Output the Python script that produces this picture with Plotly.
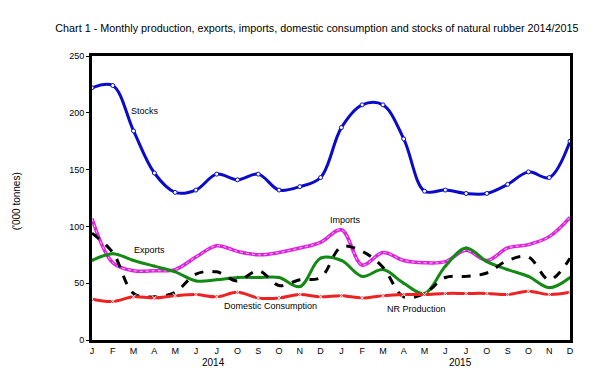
import plotly.graph_objects as go

months = ["J", "F", "M", "A", "M", "J", "J", "O", "S", "O", "N", "D"] * 2
years = ["2014", "2015"]

stocks = [222, 224, 184, 147, 130, 132, 146, 141, 146, 132, 135, 143,
          187, 207, 207, 177, 131, 132, 129, 129, 137, 148, 143, 175]
imports = [107, 68, 61, 61, 62, 73, 83, 78, 75, 77, 81, 86,
           97, 66, 77, 70, 68, 69, 79, 70, 81, 84, 91, 108]
exports = [70, 76, 70, 65, 60, 52, 53, 55, 55, 55, 47, 72,
           70, 56, 62, 50, 41, 65, 81, 69, 62, 56, 46, 55]
nr_production = [94, 77, 41, 38, 42, 58, 60, 52, 61, 48, 53, 55,
                 82, 78, 64, 38, 41, 55, 56, 59, 70, 73, 53, 72]
domestic = [36, 34, 38, 37, 39, 40, 38, 42, 37, 37, 40, 38,
            39, 37, 39, 40, 40, 41, 41, 41, 40, 43, 40, 42]

x = list(range(len(months)))
FONT = "Liberation Sans, Arial, sans-serif"

fig = go.Figure()

fig.add_trace(go.Scatter(
    x=x, y=stocks, mode="lines+markers", name="Stocks",
    line=dict(color="#0A0ACC", width=3, shape="spline", smoothing=1),
    marker=dict(symbol="circle", size=4, color="white", line=dict(color="#0A0ACC", width=1))))
fig.add_trace(go.Scatter(
    x=x, y=imports, mode="lines", name="Imports",
    line=dict(color="#DD22DD", width=3.5, shape="spline", smoothing=1)))
fig.add_trace(go.Scatter(
    x=x, y=imports, mode="lines", showlegend=False, hoverinfo="skip",
    line=dict(color="#F8C8F8", width=1, dash="dot", shape="spline", smoothing=1)))
fig.add_trace(go.Scatter(
    x=x, y=exports, mode="lines+markers", name="Exports",
    line=dict(color="#138A13", width=3, shape="spline", smoothing=1),
    marker=dict(symbol="triangle-up", size=4, color="#138A13")))
fig.add_trace(go.Scatter(
    x=x, y=nr_production, mode="lines", name="NR Production",
    line=dict(color="black", width=3, dash="dash", shape="spline", smoothing=1)))
fig.add_trace(go.Scatter(
    x=x, y=domestic, mode="lines+markers", name="Domestic Consumption",
    line=dict(color="#EE2222", width=3, shape="spline", smoothing=1),
    marker=dict(symbol="x-thin", size=5, color="white", line=dict(color="white", width=1))))

labels = [
    ("Stocks", 2.55, 201.6),
    ("Exports", 2.79, 79),
    ("Imports", 12.2, 105.6),
    ("Domestic Consumption", 8.57, 30),
    ("NR Production", 15.59, 27.3),
]
for txt, lx, ly in labels:
    fig.add_annotation(x=lx, y=ly, text=txt, showarrow=False,
                       font=dict(family=FONT, size=9, color="black"))

fig.add_annotation(x=5.85, y=-0.105, yref="paper", text=years[0], showarrow=False,
                   font=dict(family=FONT, size=10, color="black"))
fig.add_annotation(x=17.75, y=-0.105, yref="paper", text=years[1], showarrow=False,
                   font=dict(family=FONT, size=10, color="black"))
fig.add_annotation(x=-0.158, xref="paper", xanchor="center", y=0.49, yref="paper",
                   text="('000 tonnes)", textangle=-90, showarrow=False,
                   font=dict(family=FONT, size=10, color="black"))

fig.update_layout(
    width=601, height=377,
    margin=dict(l=84, r=39, t=48, b=45),
    paper_bgcolor="white", plot_bgcolor="white",
    showlegend=False,
    title=dict(text="Chart 1 - Monthly production, exports, imports, domestic consumption and stocks of natural rubber 2014/2015",
               x=0.514, xanchor="center", y=0.947, yanchor="middle",
               font=dict(family=FONT, size=10.8, color="black")),
    xaxis=dict(range=[0, 23], tickvals=x, ticktext=months, showgrid=False, zeroline=False,
               showline=True, linecolor="black", linewidth=3, mirror=True,
               ticks="", tickfont=dict(family=FONT, size=9, color="black")),
    yaxis=dict(range=[0, 250], tickvals=[0, 50, 100, 150, 200, 250], showgrid=False, zeroline=False,
               showline=True, linecolor="black", linewidth=3, mirror=True,
               ticks="outside", ticklen=3, tickcolor="black",
               tickfont=dict(family=FONT, size=9, color="black")),
)

fig.write_html("out.html")
